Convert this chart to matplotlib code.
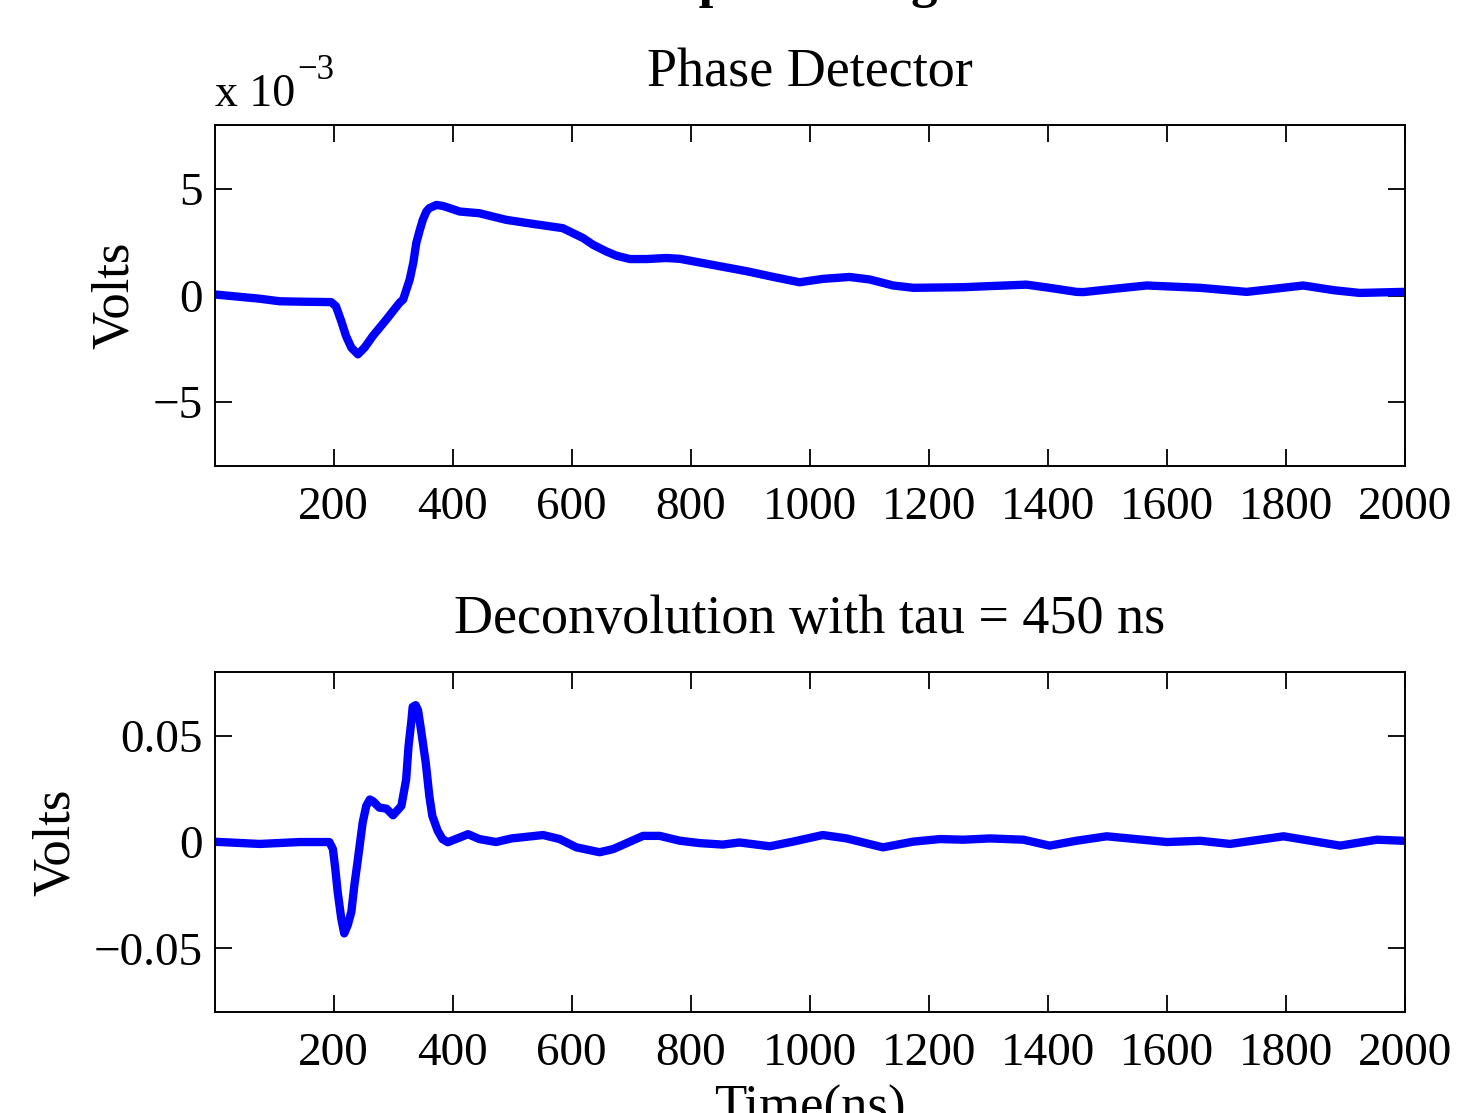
import numpy as np
import matplotlib
matplotlib.use('Agg')
import matplotlib.pyplot as plt

# phase detector output, units of 1e-3 V
pd_t = [0, 76, 109, 143, 196, 204, 213, 221, 230, 241, 252, 266, 289, 311, 317, 328,
        334, 339, 345, 350, 356, 361, 373, 384, 395, 412, 445, 490, 535, 585, 602,
        619, 636, 658, 675, 698, 726, 759, 782, 815, 894, 939, 983, 1022, 1067, 1101,
        1140, 1174, 1258, 1364, 1403, 1448, 1460, 1510, 1566, 1656, 1734, 1779, 1829,
        1880, 1924, 1997]
pd_mv = [0.05, -0.15, -0.27, -0.29, -0.31, -0.5, -1.2, -1.9, -2.45, -2.76, -2.45, -1.9,
         -1.12, -0.34, -0.19, 0.75, 1.53, 2.46, 3.08, 3.55, 3.94, 4.1, 4.25, 4.2, 4.1,
         3.94, 3.86, 3.55, 3.36, 3.16, 2.93, 2.7, 2.38, 2.07, 1.87, 1.71, 1.71, 1.76,
         1.72, 1.55, 1.14, 0.87, 0.62, 0.78, 0.87, 0.75, 0.47, 0.36, 0.39, 0.51, 0.36,
         0.17, 0.16, 0.31, 0.47, 0.36, 0.17, 0.31, 0.47, 0.25, 0.12, 0.17]

# deconvolved signal, volts
dc_t = [3, 76, 143, 193, 199, 203, 207, 213, 218, 224, 230, 235, 241, 249, 255, 261,
        266, 277, 289, 300, 314, 322, 326, 331, 333, 338, 342, 347, 355, 361, 366, 375,
        383, 392, 426, 445, 473, 499, 552, 580, 608, 647, 670, 720, 748, 782, 815, 854,
        882, 933, 972, 1022, 1062, 1123, 1174, 1219, 1258, 1303, 1359, 1403, 1448,
        1499, 1600, 1656, 1706, 1796, 1891, 1953, 1997]
dc_v = [0.0001, -0.0009, 0.0, 0.0, -0.0033, -0.0126, -0.0235, -0.036, -0.043, -0.039,
        -0.0328, -0.0204, -0.008, 0.0092, 0.017, 0.020, 0.0193, 0.0162, 0.0157, 0.0126,
        0.017, 0.0294, 0.045, 0.0575, 0.0636, 0.0644, 0.062, 0.0528, 0.0372, 0.0216,
        0.0123, 0.0053, 0.0014, -0.0001, 0.0037, 0.0014, 0.0, 0.0017, 0.0033, 0.0014,
        -0.0025, -0.0048, -0.0033, 0.0029, 0.0029, 0.0006, -0.0005, -0.0012, -0.0002,
        -0.002, 0.0002, 0.0033, 0.0017, -0.0025, 0.0002, 0.0014, 0.0011, 0.0017, 0.0011,
        -0.0017, 0.0006, 0.0027, 0.0, 0.0006, -0.0009, 0.0027, -0.0017, 0.0011, 0.0006]

xticks = [200, 400, 600, 800, 1000, 1200, 1400, 1600, 1800, 2000]

plt.rcParams['font.family'] = ['Liberation Serif', 'DejaVu Serif']

fig = plt.figure(figsize=(14.57, 11.13), dpi=100)
ax1 = fig.add_axes([0.1476, 0.5813, 0.8167, 0.3064])
ax2 = fig.add_axes([0.1476, 0.0907, 0.8167, 0.3055])

ax1.plot(pd_t, pd_mv, color='#0000ff', lw=6, solid_joinstyle='round')
ax1.set_ylim(-8, 8)
ax1.set_yticks([-5, 0, 5])
ax1.set_yticklabels(['\u22125', '0', '5'])
ax1.set_title('Phase Detector', fontsize=39, pad=28)
ax1.set_ylabel('Volts', fontsize=38, labelpad=10)
# exponent label, MATLAB style
ax1.text(0.0, 1.025, 'x 10', transform=ax1.transAxes,
         fontsize=33, ha='left', va='bottom')
ax1.text(0.0695, 1.11, '\u22123', transform=ax1.transAxes,
         fontsize=25, ha='left', va='bottom')

ax2.plot(dc_t, dc_v, color='#0000ff', lw=6, solid_joinstyle='round')
ax2.set_ylim(-0.08, 0.08)
ax2.set_yticks([-0.05, 0, 0.05])
ax2.set_yticklabels(['\u22120.05', '0', '0.05'])
ax2.set_title('Deconvolution with tau = 450 ns', fontsize=39, pad=28)
ax2.set_ylabel('Volts', fontsize=38, labelpad=10)
ax2.set_xlabel('Time(ns)', fontsize=38, labelpad=7)

for ax in (ax1, ax2):
    ax.set_xlim(1, 2000)
    ax.set_xticks(xticks)
    ax.tick_params(direction='in', length=12, width=1.3, labelsize=34,
                   top=True, right=True)
    ax.tick_params(axis='x', pad=15)
    ax.tick_params(axis='y', pad=9)
    for s in ax.spines.values():
        s.set_linewidth(1.4)

# figure title, cut off at the top edge of the image
fig.text(0.566, 1.0027, 'Kicker Impulse Ringdown Data', fontsize=38,
         fontweight='bold', ha='center', va='baseline')

fig.savefig('out.png', dpi=100)
